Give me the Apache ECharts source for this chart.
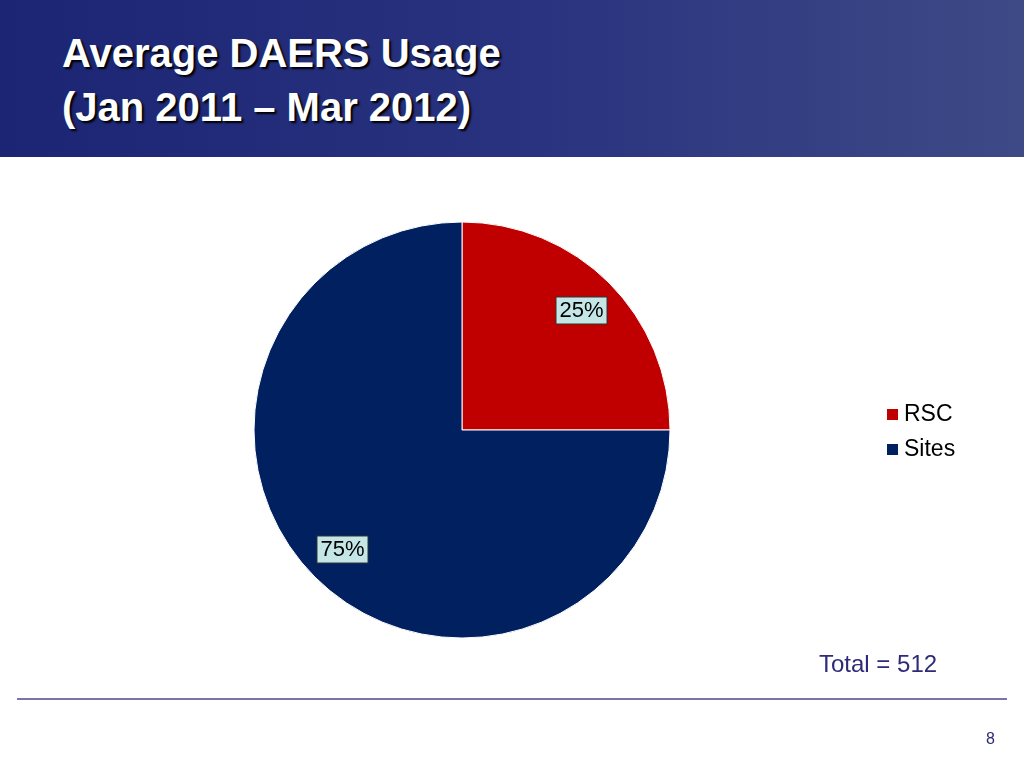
<!DOCTYPE html>
<html><head><meta charset="utf-8">
<script src="https://cdn.jsdelivr.net/npm/echarts@6/dist/echarts.min.js"></script>
<style>
html,body{margin:0;padding:0;background:#fff;}
#hdr{position:absolute;left:0;top:0;width:1024px;height:157px;background:linear-gradient(90deg,#1b2573 0%,#28327f 50%,#3e4a86 100%);}
#hdr div{position:absolute;left:62px;top:26px;color:#fff;font:bold 40px "Liberation Sans",Arial,sans-serif;line-height:54px;text-shadow:2px 2px 2px #000;}
#c{position:absolute;left:0;top:0;width:1024px;height:768px;}
#line{position:absolute;left:17px;top:698px;width:990px;height:2px;background:#7a74a8;}
#tot{position:absolute;left:819px;top:650px;color:#2e2a7a;font:24px "Liberation Sans",Arial,sans-serif;}
#pg{position:absolute;left:986px;top:730px;color:#2e2a7a;font:16px "Liberation Sans",Arial,sans-serif;}
</style></head><body>
<div id="c"></div>
<div id="hdr"><div>Average DAERS Usage<br>(Jan 2011 – Mar 2012)</div></div>
<div id="line"></div>
<div id="tot">Total = 512</div>
<div id="pg">8</div>
<script>
const categories=['RSC','Sites'];
const values=[128,384];
const colors=['#c00000','#002060'];
const data=categories.map((n,i)=>({name:n,value:values[i],itemStyle:{color:colors[i]}}));
const chart=echarts.init(document.getElementById('c'));
chart.setOption({
 animation:false,
 legend:{orient:'vertical',left:880,top:398,itemWidth:13,itemHeight:13,icon:'rect',itemGap:12,
  textStyle:{fontSize:23,color:'#000',fontFamily:'Liberation Sans, Arial'},data:categories},
 series:[
  {type:'pie',center:[462,430],radius:[0,208],startAngle:90,clockwise:true,data:data,label:{show:false},
   itemStyle:{borderColor:'#fff',borderWidth:1},silent:true},
  {type:'pie',center:[462,430],radius:[0,332],startAngle:90,clockwise:true,silent:true,legendHoverLink:false,
   data:data.map(d=>({name:d.name+' ',value:d.value,itemStyle:{color:'rgba(0,0,0,0)'}})),
   label:{show:true,position:'inside',formatter:p=>Math.round(p.percent)+'%',fontSize:22,color:'#000',
    fontFamily:'Liberation Sans, Arial',backgroundColor:'#c5e6e6',borderColor:'#333',borderWidth:1,padding:[2,3]}}
 ]
});
</script>
</body></html>
